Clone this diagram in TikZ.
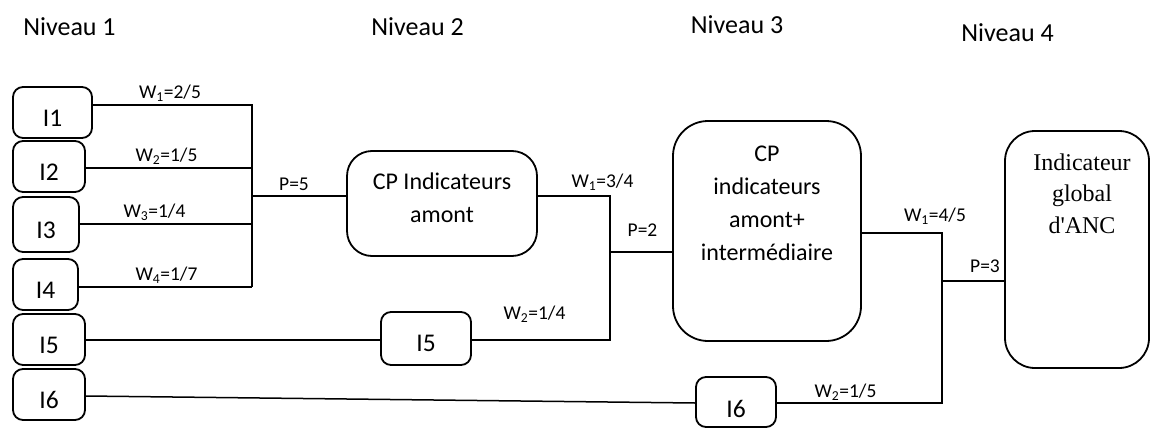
\documentclass[tikz,border=0pt]{standalone}
\usepackage{fontspec}
\setmainfont{Carlito}
\newfontfamily\timesf{Liberation Serif}
\begin{document}
\begin{tikzpicture}[x=1pt,y=-1pt, line width=1.5pt,
  box/.style={draw, line width=1.8pt, rounded corners=10pt, inner sep=0pt,
    font=\fontsize{25.5}{28}\selectfont, text height=28.5pt, text depth=0pt},
  bigbox/.style={draw, line width=1.8pt, inner sep=0pt},
  lbl/.style={inner sep=0pt, font=\fontsize{19.5}{22}\selectfont},
  lvl/.style={inner sep=0pt, font=\fontsize{26}{30}\selectfont},
  txt/.style={inner sep=0pt, align=center, font=\fontsize{24}{33}\selectfont},
  ttxt/.style={inner sep=0pt, align=center, font=\timesf\fontsize{24}{31.5}\selectfont}]
\useasboundingbox (0,0) rectangle (1153,428);

% level titles
\node[lvl] (n1) at (69.5,27) {Niveau 1};
\node[lvl] (n2) at (417.5,27) {Niveau 2};
\node[lvl] (n3) at (737,25) {Niveau 3};
\node[lvl] (n4) at (1007.5,33) {Niveau 4};

% level 1 boxes
\node[box, minimum width=79pt, minimum height=51pt] (I1) at (52.5,112.5) {I1};
\node[box, minimum width=72pt, minimum height=51pt] (I2) at (49,166.5) {I2};
\node[box, minimum width=66pt, minimum height=55pt] (I3) at (46,224.5) {I3};
\node[box, minimum width=65pt, minimum height=51pt] (I4) at (45.5,284.5) {I4};
\node[box, minimum width=72pt, minimum height=51pt] (I5) at (49,339.5) {I5};
\node[box, minimum width=72pt, minimum height=51pt] (I6) at (49,394.5) {I6};

% level 2/3 small boxes
\node[box, minimum width=90pt, minimum height=53pt, text height=25pt] (I5m) at (426,338.5) {I5};
\node[box, minimum width=80pt, minimum height=50pt, text height=30.5pt] (I6m) at (736,402) {I6};

% big boxes
\node[bigbox, rounded corners=25pt, minimum width=190pt, minimum height=105pt] (CP1) at (442,203.5) {};
\node[txt] (CP1t) at (442,198) {CP Indicateurs\\amont};
\node[bigbox, rounded corners=35pt, minimum width=188pt, minimum height=220pt] (CP2) at (767,231) {};
\node[txt] (CP2t) at (767,203) {CP\\indicateurs\\amont+\\intermédiaire};
\node[bigbox, rounded corners=30pt, minimum width=144pt, minimum height=237pt] (F) at (1077,249.5) {};
\node[ttxt] (Ft) at (1082,193.5) {Indicateur\\global\\d'ANC};

% bus 1
\coordinate (b1) at (252,105);
\coordinate (b2) at (252,168);
\coordinate (b3) at (252,224);
\coordinate (b4) at (252,287);
\coordinate (j5) at (252,196);
\draw (I1.east |- b1) -- (b1) -- (b4);
\draw (I2.east |- b2) -- (b2);
\draw (I3.east |- b3) -- (b3);
\draw (I4.east |- b4) -- (b4);
\draw (j5) -- (CP1.west |- j5);

% bus 2
\coordinate (c1) at (610,196);
\coordinate (c2) at (610,340);
\coordinate (j2) at (610,252);
\draw (CP1.east |- c1) -- (c1) -- (c2) -- (I5m.east |- c2);
\draw (I5.east |- c2) -- (I5m.west |- c2);
\draw (j2) -- (CP2.west |- j2);

% bus 3
\coordinate (d1) at (942,233);
\coordinate (d2) at (942,403);
\coordinate (j3) at (942,281);
\draw (CP2.east |- d1) -- (d1) -- (d2) -- (I6m.east |- d2);
\draw (j3) -- (F.west |- j3);
\draw ([yshift=-1.5pt]I6.east) -- ([yshift=-1pt]I6m.west);

% weights
\node[lbl] (w11) at (170,93) {W\textsubscript{1}=2/5};
\node[lbl] (w12) at (166.5,156) {W\textsubscript{2}=1/5};
\node[lbl] (w13) at (154.5,212) {W\textsubscript{3}=1/4};
\node[lbl] (w14) at (166.5,275) {W\textsubscript{4}=1/7};
\node[lbl] (p5) at (294,184) {P=5};
\node[lbl] (w21) at (602.5,182) {W\textsubscript{1}=3/4};
\node[lbl] (p2) at (642.5,230) {P=2};
\node[lbl] (w22) at (534.5,314) {W\textsubscript{2}=1/4};
\node[lbl] (w31) at (935,216) {W\textsubscript{1}=4/5};
\node[lbl] (p3) at (985,266.5) {P=3};
\node[lbl] (w32) at (845.5,392) {W\textsubscript{2}=1/5};
\end{tikzpicture}
\end{document}
